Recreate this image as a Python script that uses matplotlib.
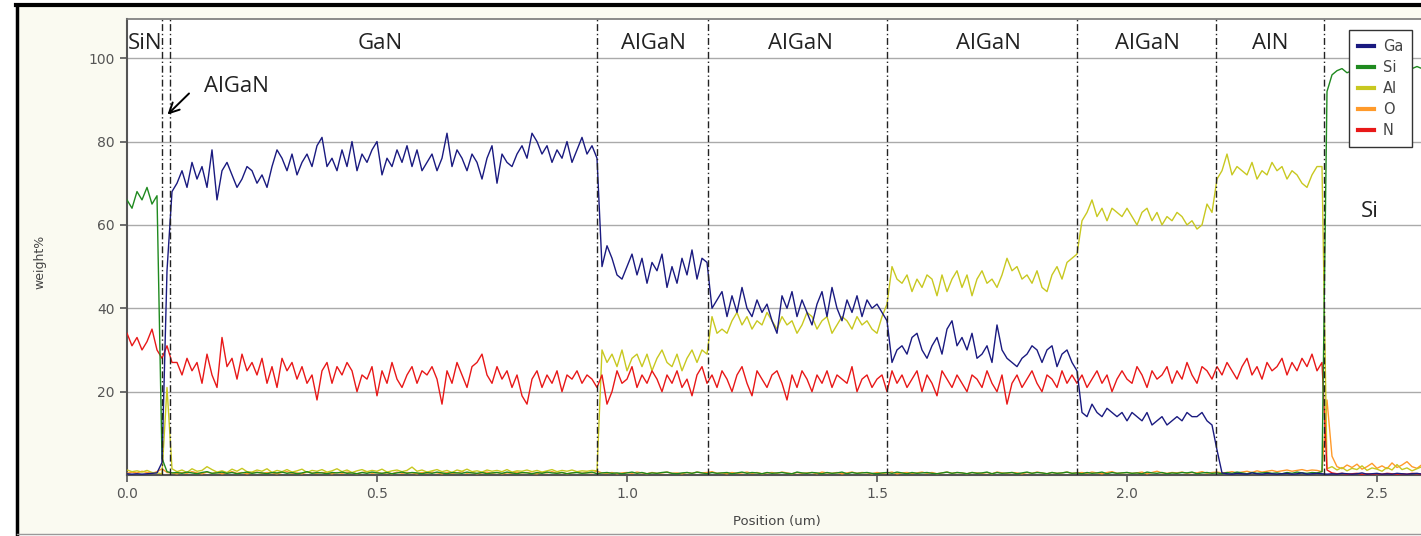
import numpy as np
import matplotlib
matplotlib.use("Agg")
import matplotlib.pyplot as plt
from matplotlib.lines import Line2D
from matplotlib.patches import Rectangle

# EDS line scan, one sample every 0.01 um
step_um = 0.01

ga = [
    0.3, 0.2, 0.3, 0.2, 0.3, 0.4, 0.5, 3, 49, 68,
    70, 73, 69, 75, 71, 74, 69, 78, 66, 73,
    75, 72, 69, 71, 74, 73, 70, 72, 69, 74,
    78, 76, 73, 77, 72, 75, 77, 74, 79, 81,
    74, 76, 73, 78, 74, 80, 73, 77, 75, 78,
    80, 72, 76, 74, 78, 75, 79, 74, 78, 73,
    75, 77, 73, 76, 82, 74, 78, 76, 73, 77,
    75, 71, 76, 79, 70, 77, 75, 74, 77, 79,
    76, 82, 80, 77, 79, 75, 78, 76, 80, 75,
    78, 81, 77, 79, 76, 50, 55, 52, 48, 47,
    50, 53, 48, 52, 46, 51, 49, 53, 45, 50,
    46, 52, 48, 54, 47, 52, 51, 40, 42, 44,
    38, 43, 39, 45, 40, 38, 42, 39, 41, 37,
    34, 43, 40, 44, 38, 42, 39, 36, 41, 44,
    38, 45, 40, 37, 42, 39, 43, 38, 42, 40,
    41, 39, 37, 27, 30, 31, 29, 33, 34, 30,
    28, 31, 33, 29, 35, 37, 31, 33, 30, 34,
    28, 29, 31, 27, 36, 30, 28, 27, 26, 28,
    29, 31, 30, 27, 30, 31, 26, 29, 30, 27,
    25, 15, 14, 17, 15, 14, 16, 15, 14, 15,
    13, 15, 14, 13, 15, 12, 13, 14, 12, 13,
    14, 13, 15, 14, 14, 15, 13, 12, 6, 0.5,
    0.3, 0.2, 0.4, 0.3, 0.2, 0.5, 0.3, 0.2, 0.4, 0.3,
    0.2, 0.3, 0.4, 0.2, 0.3, 0.5, 0.2, 0.3, 0.4, 0.3,
    0.2, 0.3, 0.2, 0.4, 0.3, 0.2, 0.3, 0.5, 0.2, 0.3,
    0.4, 0.2, 0.3, 0.2, 0.4, 0.3, 0.2, 0.3, 0.4, 0.2,
]

si = [
    66, 64, 68, 66, 69, 65, 67, 4, 0.8, 0.5,
    0.6, 0.4, 0.7, 0.5, 0.3, 0.6, 0.8, 0.4, 0.5, 0.7,
    0.4, 0.6, 0.3, 0.5, 0.7, 0.4, 0.6, 0.5, 0.3, 0.6,
    0.5, 0.7, 0.4, 0.6, 0.3, 0.5, 0.8, 0.4, 0.6, 0.5,
    0.3, 0.6, 0.5, 0.7, 0.4, 0.5, 0.3, 0.6, 0.4, 0.7,
    0.5, 0.4, 0.6, 0.3, 0.5, 0.7, 0.4, 0.6, 0.5, 0.3,
    0.6, 0.4, 0.7, 0.5, 0.3, 0.6, 0.5, 0.4, 0.7, 0.5,
    0.4, 0.6, 0.3, 0.5, 0.6, 0.4, 0.7, 0.5, 0.3, 0.6,
    0.5, 0.3, 0.6, 0.4, 0.7, 0.5, 0.4, 0.6, 0.3, 0.5,
    0.6, 0.4, 0.5, 0.7, 0.3, 0.5, 0.6, 0.4, 0.5, 0.3,
    0.5, 0.7, 0.4, 0.6, 0.3, 0.5, 0.4, 0.6, 0.7, 0.4,
    0.3, 0.5, 0.6, 0.4, 0.7, 0.5, 0.3, 0.6, 0.4, 0.5,
    0.6, 0.3, 0.5, 0.7, 0.4, 0.6, 0.5, 0.3, 0.6, 0.4,
    0.5, 0.6, 0.4, 0.3, 0.7, 0.5, 0.4, 0.6, 0.5, 0.3,
    0.6, 0.4, 0.5, 0.7, 0.3, 0.6, 0.4, 0.5, 0.6, 0.4,
    0.3, 0.5, 0.6, 0.4, 0.7, 0.5, 0.3, 0.6, 0.4, 0.5,
    0.6, 0.4, 0.3, 0.5, 0.7, 0.4, 0.6, 0.5, 0.3, 0.6,
    0.4, 0.5, 0.7, 0.3, 0.6, 0.4, 0.5, 0.6, 0.3, 0.5,
    0.7, 0.4, 0.6, 0.5, 0.3, 0.6, 0.4, 0.5, 0.7, 0.4,
    0.5, 0.3, 0.6, 0.4, 0.5, 0.7, 0.3, 0.6, 0.4, 0.5,
    0.6, 0.4, 0.5, 0.3, 0.7, 0.5, 0.4, 0.6, 0.3, 0.5,
    0.4, 0.6, 0.5, 0.7, 0.3, 0.5, 0.6, 0.4, 0.5, 0.3,
    0.6, 0.4, 0.7, 0.5, 0.3, 0.6, 0.4, 0.5, 0.6, 0.4,
    0.5, 0.3, 0.6, 0.4, 0.7, 0.5, 0.4, 0.6, 0.5, 0.8,
    92, 96, 97, 97.5, 96.5, 97, 98, 97, 96.5, 97.5,
    97, 96.5, 97.5, 98, 97, 96.5, 97, 97.5, 98, 97.5,
]

al = [
    1.2, 0.8, 1.0, 0.7, 1.1, 0.6, 0.5, 0.3, 21, 1.5,
    0.8, 1.2, 0.6, 1.5, 0.9, 1.1, 2.0, 1.3, 0.7, 1.0,
    0.6, 1.4, 0.9, 1.6, 0.8, 0.7, 1.2, 0.9, 1.5, 0.6,
    1.1, 0.8, 1.3, 0.7, 1.0, 1.4, 0.6, 1.1, 0.9, 1.3,
    0.7, 1.0, 1.5, 0.8, 1.2, 0.6, 1.0, 1.3, 0.8, 1.1,
    0.9, 1.4, 0.7, 1.0, 1.2, 0.8, 1.1, 1.9, 0.9, 1.2,
    0.7, 1.0, 1.3, 0.8, 1.1, 0.6, 1.2, 0.9, 1.4, 0.8,
    1.0, 0.7, 1.2, 0.9, 1.1, 0.8, 1.3, 0.7, 1.0, 0.9,
    1.2, 0.8, 1.1, 0.7, 1.0, 1.3, 0.8, 1.1, 0.9, 1.2,
    0.8, 1.0, 0.9, 1.1, 1.0, 30, 27, 29, 26, 30,
    25, 28, 29, 26, 29, 25, 28, 30, 27, 26,
    29, 25, 28, 30, 27, 30, 29, 38, 34, 35,
    34, 37, 39, 36, 38, 35, 37, 36, 39, 37,
    35, 38, 36, 37, 34, 36, 39, 38, 35, 37,
    38, 34, 36, 38, 37, 35, 38, 36, 37, 35,
    34, 38, 41, 50, 47, 46, 48, 44, 47, 45,
    48, 47, 43, 48, 44, 47, 49, 45, 48, 43,
    47, 49, 46, 47, 45, 48, 52, 49, 50, 47,
    48, 46, 49, 45, 44, 48, 50, 47, 51, 52,
    53, 61, 63, 66, 62, 64, 61, 64, 63, 62,
    64, 62, 60, 63, 64, 61, 63, 60, 62, 61,
    63, 62, 60, 61, 59, 60, 65, 63, 71, 73,
    77, 72, 74, 73, 72, 75, 71, 73, 72, 75,
    73, 74, 71, 73, 72, 70, 69, 72, 74, 74,
    1.5, 2.0, 1.2, 1.8, 1.0, 1.6, 1.3, 2.2, 1.1, 1.7,
    1.4, 0.9, 1.8, 1.2, 2.5, 1.3, 1.7, 1.0, 1.5, 2.0,
]

o = [
    0.4, 0.7, 0.5, 0.9, 0.6, 0.4, 0.8, 1.5, 0.6, 0.5,
    0.3, 0.6, 0.4, 0.8, 0.5, 0.3, 0.7, 0.4, 0.6, 0.3,
    0.5, 0.8, 0.4, 0.6, 0.3, 0.5, 0.7, 0.4, 0.6, 0.5,
    0.3, 0.6, 0.8, 0.4, 0.5, 0.3, 0.7, 0.5, 0.4, 0.6,
    0.5, 0.3, 0.6, 0.4, 0.7, 0.5, 0.3, 0.6, 0.8, 0.4,
    0.6, 0.4, 0.5, 0.3, 0.7, 0.4, 0.6, 0.5, 0.3, 0.6,
    0.4, 0.7, 0.5, 0.3, 0.6, 0.4, 0.5, 0.8, 0.4, 0.6,
    0.3, 0.5, 0.7, 0.4, 0.6, 0.3, 0.5, 0.4, 0.7, 0.5,
    0.6, 0.4, 0.3, 0.6, 0.5, 0.8, 0.4, 0.6, 0.3, 0.5,
    0.7, 0.4, 0.6, 0.5, 0.9, 0.5, 0.4, 0.6, 0.3, 0.5,
    0.6, 0.4, 0.7, 0.5, 0.3, 0.6, 0.4, 0.5, 0.7, 0.4,
    0.5, 0.3, 0.6, 0.4, 0.7, 0.5, 0.6, 0.8, 0.4, 0.5,
    0.3, 0.6, 0.4, 0.5, 0.7, 0.4, 0.6, 0.3, 0.5, 0.6,
    0.4, 0.7, 0.5, 0.3, 0.6, 0.4, 0.5, 0.6, 0.3, 0.7,
    0.5, 0.4, 0.6, 0.3, 0.5, 0.7, 0.4, 0.6, 0.5, 0.3,
    0.6, 0.4, 0.5, 0.7, 0.3, 0.5, 0.6, 0.4, 0.5, 0.7,
    0.4, 0.6, 0.3, 0.5, 0.7, 0.4, 0.6, 0.5, 0.3, 0.6,
    0.5, 0.4, 0.6, 0.3, 0.7, 0.5, 0.4, 0.6, 0.5, 0.3,
    0.6, 0.4, 0.7, 0.5, 0.3, 0.6, 0.4, 0.5, 0.7, 0.4,
    0.5, 0.6, 0.4, 0.7, 0.5, 0.3, 0.6, 0.8, 0.4, 0.5,
    0.6, 0.4, 0.5, 0.7, 0.3, 0.6, 0.9, 0.5, 0.4, 0.6,
    0.5, 0.7, 0.4, 0.6, 0.5, 0.8, 0.4, 0.6, 0.7, 0.5,
    0.6, 0.8, 0.5, 0.7, 0.9, 0.6, 1.0, 0.7, 0.9, 1.1,
    0.8, 1.0, 1.2, 0.9, 1.1, 1.3, 1.0, 1.2, 1.1, 0.8,
    18, 4.5, 2.0, 1.5, 2.4, 1.8, 2.6, 1.4, 2.0, 2.8,
    1.6, 2.2, 1.5, 2.9, 1.8, 2.4, 3.2, 2.0, 1.6, 2.5,
]

n = [
    34, 31, 33, 30, 32, 35, 30, 28, 31, 27,
    27, 24, 28, 25, 27, 22, 29, 24, 21, 33,
    26, 28, 23, 29, 25, 27, 24, 28, 22, 26,
    21, 28, 25, 27, 23, 26, 22, 24, 18, 25,
    27, 22, 26, 24, 27, 25, 20, 24, 23, 26,
    19, 25, 22, 27, 23, 21, 24, 26, 22, 25,
    24, 26, 23, 17, 25, 22, 27, 24, 21, 26,
    27, 29, 24, 22, 26, 23, 25, 21, 24, 19,
    17, 23, 25, 21, 24, 22, 25, 20, 24, 23,
    25, 22, 24, 23, 21, 24, 17, 20, 25, 22,
    23, 26, 21, 24, 22, 25, 23, 20, 24, 22,
    25, 21, 23, 19, 24, 26, 22, 24, 21, 25,
    23, 20, 24, 26, 22, 19, 25, 23, 21, 24,
    25, 22, 18, 24, 21, 25, 23, 20, 24, 22,
    25, 21, 24, 23, 22, 26, 20, 23, 24, 21,
    23, 24, 20, 25, 22, 24, 21, 23, 25, 20,
    24, 22, 19, 25, 23, 21, 24, 22, 20, 24,
    23, 21, 25, 22, 20, 24, 17, 22, 24, 21,
    23, 25, 22, 20, 24, 23, 21, 25, 22, 24,
    22, 24, 21, 23, 25, 22, 24, 20, 23, 25,
    23, 22, 26, 24, 21, 25, 23, 24, 26, 22,
    25, 23, 27, 24, 22, 26, 25, 23, 26, 24,
    27, 25, 23, 26, 28, 24, 26, 23, 27, 25,
    26, 28, 24, 27, 25, 28, 26, 29, 25, 27,
    1.2, 0.5, 0.3, 0.4, 0.2, 0.3, 0.4, 0.2, 0.3, 0.2,
    0.3, 0.2, 0.4, 0.3, 0.2, 0.3, 0.2, 0.4, 0.3, 0.2,
]

elements = ["Ga", "Si", "Al", "O", "N"]
colors = ["#1a1a80", "#1f8a1f", "#c8c820", "#ff9a2a", "#e81818"]

# layer boundaries (um) and layer names
boundaries = [0.070, 0.086, 0.940, 1.162, 1.520, 1.900, 2.178, 2.394]
layer_names = ["SiN", "GaN", "AlGaN", "AlGaN", "AlGaN", "AlGaN", "AlN"]
layer_centers = [0.036, 0.506, 1.052, 1.346, 1.722, 2.040, 2.286]

series = [ga, si, al, o, n]
for s in series:
    assert len(s) == 260
position = np.arange(len(ga)) * step_um

fig = plt.figure(figsize=(14.21, 5.36), dpi=100, facecolor="white")
W, H = 1421, 536

# cream panel with the black frame of the screenshot
fig.add_artist(Rectangle((17 / W, 2 / H), 1, 1 - 7 / H, transform=fig.transFigure,
                         facecolor="#fafaf1", edgecolor="none", zorder=-10))
fig.add_artist(Line2D([16 / W, 1], [1 - 5 / H] * 2, color="black", lw=3))
fig.add_artist(Line2D([17 / W] * 2, [2 / H, 1 - 5 / H], color="black", lw=2.5))
fig.add_artist(Line2D([17 / W, 1], [2 / H] * 2, color="#999999", lw=1))

ax = fig.add_axes([127 / W, 61 / H, 1300 / W, 456 / H])
ax.set_facecolor("white")

zorders = [6, 5, 4, 3, 4]
for name, vals, c, z in zip(elements, series, colors, zorders):
    ax.plot(position, vals, color=c, lw=1.0, label=name, zorder=z)

for b in boundaries:
    ax.axvline(b, color="#222222", lw=1.0, ls=(0, (5, 2, 1, 2)), zorder=7)

ax.set_xlim(0, 2.6)
ax.set_ylim(0, 109.4)
ax.set_xticks([0.0, 0.5, 1.0, 1.5, 2.0, 2.5])
ax.set_xticklabels(["0.0", "0.5", "1.0", "1.5", "2.0", "2.5"])
ax.set_yticks([20, 40, 60, 80, 100])
ax.yaxis.grid(True, color="#aaaaaa", lw=1.0, zorder=0)
ax.set_axisbelow(True)
ax.tick_params(axis="both", direction="out", length=5, width=1.2,
               colors="#555555", labelsize=10, pad=4)
for sp in ["left", "bottom"]:
    ax.spines[sp].set_color("#555555")
    ax.spines[sp].set_linewidth(1.5)
ax.spines["top"].set_color("#777777")
ax.spines["top"].set_linewidth(1.2)
ax.spines["right"].set_visible(False)

ax.set_xlabel("Position (um)", fontsize=9.5, color="#444444", labelpad=10)
fig.text(40 / W, 1 - 262 / H, "weight%", rotation=90, fontsize=9,
         color="#444444", ha="center", va="center")

# layer labels
for name, xc in zip(layer_names, layer_centers):
    ax.text(xc, 103.6, name, ha="center", va="center", fontsize=16,
            family="Open Sans", color="#222222", zorder=8)
ax.text(2.486, 63.3, "Si", ha="center", va="center", fontsize=16,
        family="Open Sans", color="#222222", zorder=8)
ax.text(0.218, 93.3, "AlGaN", ha="center", va="center", fontsize=16,
        family="Open Sans", color="#222222", zorder=8)
ax.annotate("", xy=(0.077, 86.0), xytext=(0.128, 92.0),
            arrowprops=dict(arrowstyle="->", color="black", lw=1.4,
                            mutation_scale=18), zorder=8)

leg = fig.legend(loc="upper right", bbox_to_anchor=(1412 / W, 1 - 30 / H),
                 fontsize=10.5, handlelength=1.1, handletextpad=0.6,
                 labelspacing=0.42, borderpad=0.6, borderaxespad=0,
                 fancybox=False, framealpha=1, edgecolor="#333333")
leg.get_frame().set_linewidth(1.0)
for line in leg.get_lines():
    line.set_linewidth(3)
for t in leg.get_texts():
    t.set_color("#444444")
leg.set_zorder(10)

fig.savefig("out.png", dpi=100, facecolor=fig.get_facecolor())
